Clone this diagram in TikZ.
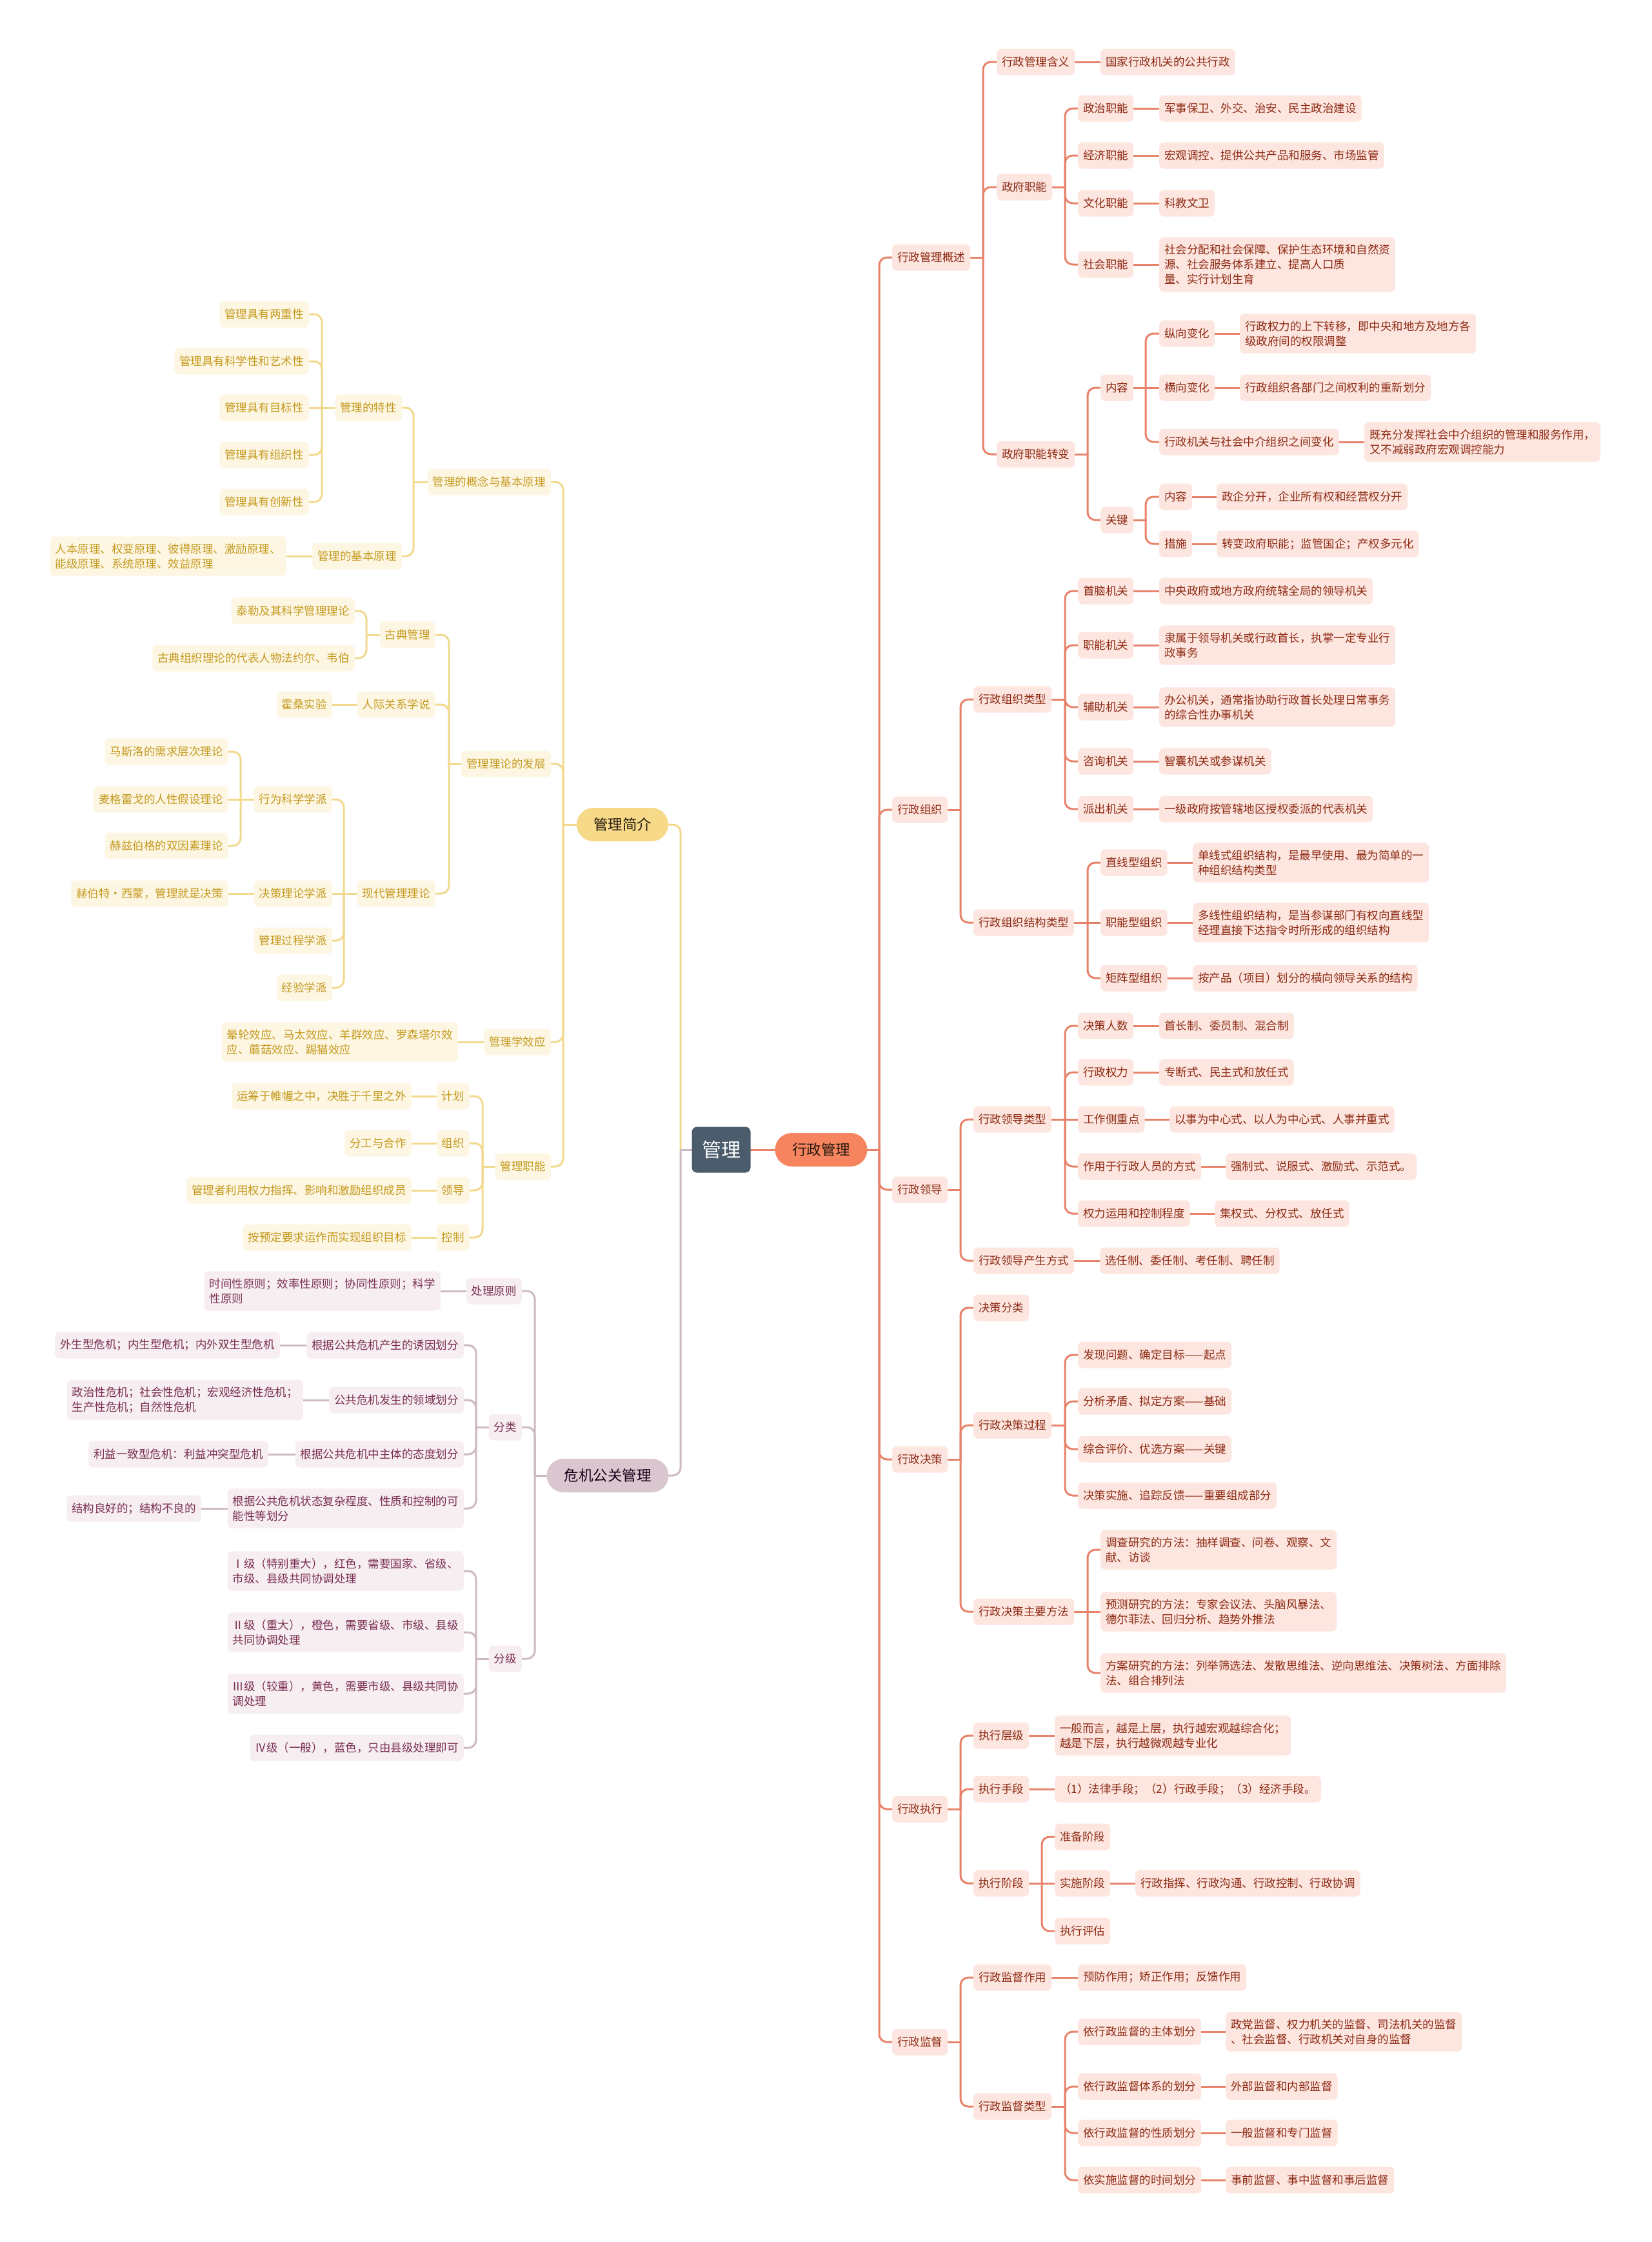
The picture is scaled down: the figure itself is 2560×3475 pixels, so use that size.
\documentclass[tikz,border=0pt]{standalone}
\usepackage{fontspec}
\setmainfont{Noto Sans CJK SC}
\usetikzlibrary{calc}
\pgfdeclarelayer{bg}
\pgfsetlayers{bg,main}
\definecolor{rline}{HTML}{E8826A}
\definecolor{rfill}{HTML}{FCE6DF}
\definecolor{rtext}{HTML}{8E2A14}
\definecolor{yline}{HTML}{F2D98E}
\definecolor{yfill}{HTML}{FDF6E3}
\definecolor{ytext}{HTML}{C49A1E}
\definecolor{mline}{HTML}{CDB9C3}
\definecolor{mfill}{HTML}{F6EEF1}
\definecolor{mtext}{HTML}{7A2E52}
\definecolor{rootfill}{HTML}{4B5C6D}
\definecolor{xzfill}{HTML}{F6845F}
\definecolor{jjfill}{HTML}{F6DA8A}
\definecolor{wjfill}{HTML}{D9C6CE}
\newcommand\fsz{\fontsize{17.5}{23}\selectfont}
\tikzset{
 box/.style={rounded corners=7pt, inner xsep=8pt, inner ysep=11pt, minimum height=41pt, align=left, font=\fsz},
 R/.style={box, fill=rfill, text=rtext, anchor=west},
 Y/.style={box, fill=yfill, text=ytext, anchor=east},
 M/.style={box, fill=mfill, text=mtext, anchor=east},
 rl/.style={draw=rline, line width=3pt, line cap=round},
 yl/.style={draw=yline, line width=3pt, line cap=round},
 ml/.style={draw=mline, line width=3pt, line cap=round},
 rootbox/.style={fill=rootfill, text=white, rounded corners=8pt, minimum width=91pt, minimum height=71pt, inner sep=0pt, font=\fontsize{30}{36}\selectfont},
 pill/.style={rounded corners=26pt, minimum height=52pt, inner xsep=0pt, inner ysep=0pt, font=\fontsize{22.5}{28}\selectfont},
}
\newcommand\rbr[4]{%
 \coordinate (T) at (#4,0);
 \draw[#1] (#2.east) -- (#2.east -| T);
 \draw[#1,rounded corners=12pt] (#2.east -| T) -- (#3.west -| T) -- (#3.west);
}
\newcommand\lbr[4]{%
 \coordinate (T) at (#4,0);
 \draw[#1] (#2.west) -- (#2.west -| T);
 \draw[#1,rounded corners=12pt] (#2.west -| T) -- (#3.east -| T) -- (#3.east);
}
\begin{document}
\begin{tikzpicture}[x=1pt,y=-1pt]
\begin{pgfonlayer}{bg}
\fill[white] (0,0) rectangle (2560,3475);
\end{pgfonlayer}
\useasboundingbox (0,0) rectangle (2560,3475);
% ---------- centre ----------
\node[rootbox] (r) at (1118,1782) {管理};
\node[pill, fill=xzfill, text=black!80!brown, minimum width=143pt] (x) at (1273,1782) {行政管理};
\node[pill, fill=jjfill, text=black!80!brown, minimum width=142pt] (b) at (965,1278) {管理简介};
\node[pill, fill=wjfill, text=black!80!violet, minimum width=189pt] (c) at (942,2287) {危机公关管理};
% ---------- right: 行政管理 ----------
\node[R] (a1) at (1383,399) {行政管理概述};
\node[R] (a2) at (1383,1255) {行政组织};
\node[R] (a3) at (1383,1844) {行政领导};
\node[R] (a4) at (1383,2262) {行政决策};
\node[R] (a5) at (1383,2804) {行政执行};
\node[R] (a6) at (1383,3165) {行政监督};
% a1
\node[R] (a11) at (1545,96) {行政管理含义};
\node[R] (a11a) at (1706,96) {国家行政机关的公共行政};
\node[R] (a12) at (1545,290) {政府职能};
\node[R] (a121) at (1671,168) {政治职能};
\node[R] (a121a) at (1797,168) {军事保卫、外交、治安、民主政治建设};
\node[R] (a122) at (1671,241) {经济职能};
\node[R] (a122a) at (1797,241) {宏观调控、提供公共产品和服务、市场监管};
\node[R] (a123) at (1671,315) {文化职能};
\node[R] (a123a) at (1797,315) {科教文卫};
\node[R] (a124) at (1671,410) {社会职能};
\node[R] (a124a) at (1797,410) {社会分配和社会保障、保护生态环境和自然资\\源、社会服务体系建立、提高人口质\\量、实行计划生育};
\node[R] (a13) at (1545,704) {政府职能转变};
\node[R] (a131) at (1706,601) {内容};
\node[R] (a1311) at (1797,517) {纵向变化};
\node[R] (a1311a) at (1922,517) {行政权力的上下转移，即中央和地方及地方各\\级政府间的权限调整};
\node[R] (a1312) at (1797,601) {横向变化};
\node[R] (a1312a) at (1922,601) {行政组织各部门之间权利的重新划分};
\node[R] (a1313) at (1797,685) {行政机关与社会中介组织之间变化};
\node[R] (a1313a) at (2115,685) {既充分发挥社会中介组织的管理和服务作用，\\又不减弱政府宏观调控能力};
\node[R] (a132) at (1706,806) {关键};
\node[R] (a1321) at (1797,770) {内容};
\node[R] (a1321a) at (1886,770) {政企分开，企业所有权和经营权分开};
\node[R] (a1322) at (1797,843) {措施};
\node[R] (a1322a) at (1886,843) {转变政府职能；监管国企；产权多元化};
% a2
\node[R] (a21) at (1509,1084) {行政组织类型};
\node[R] (a211) at (1671,916) {首脑机关};
\node[R] (a211a) at (1797,916) {中央政府或地方政府统辖全局的领导机关};
\node[R] (a212) at (1671,1000) {职能机关};
\node[R] (a212a) at (1797,1000) {隶属于领导机关或行政首长，执掌一定专业行\\政事务};
\node[R] (a213) at (1671,1096) {辅助机关};
\node[R] (a213a) at (1797,1096) {办公机关，通常指协助行政首长处理日常事务\\的综合性办事机关};
\node[R] (a214) at (1671,1180) {咨询机关};
\node[R] (a214a) at (1797,1180) {智囊机关或参谋机关};
\node[R] (a215) at (1671,1254) {派出机关};
\node[R] (a215a) at (1797,1254) {一级政府按管辖地区授权委派的代表机关};
\node[R] (a22) at (1509,1430) {行政组织结构类型};
\node[R] (a221) at (1706,1337) {直线型组织};
\node[R] (a221a) at (1849,1337) {单线式组织结构，是最早使用、最为简单的一\\种组织结构类型};
\node[R] (a222) at (1706,1430) {职能型组织};
\node[R] (a222a) at (1849,1430) {多线性组织结构，是当参谋部门有权向直线型\\经理直接下达指令时所形成的组织结构};
\node[R] (a223) at (1706,1516) {矩阵型组织};
\node[R] (a223a) at (1849,1516) {按产品（项目）划分的横向领导关系的结构};
% a3
\node[R] (a31) at (1509,1735) {行政领导类型};
\node[R] (a311) at (1671,1590) {决策人数};
\node[R] (a311a) at (1797,1590) {首长制、委员制、混合制};
\node[R] (a312) at (1671,1662) {行政权力};
\node[R] (a312a) at (1797,1662) {专断式、民主式和放任式};
\node[R] (a313) at (1671,1735) {工作侧重点};
\node[R] (a313a) at (1813,1735) {以事为中心式、以人为中心式、人事并重式};
\node[R] (a314) at (1671,1808) {作用于行政人员的方式};
\node[R] (a314a) at (1900,1808) {强制式、说服式、激励式、示范式。};
\node[R] (a315) at (1671,1881) {权力运用和控制程度};
\node[R] (a315a) at (1883,1881) {集权式、分权式、放任式};
\node[R] (a32) at (1509,1954) {行政领导产生方式};
\node[R] (a32a) at (1705,1954) {选任制、委任制、考任制、聘任制};
% a4
\node[R] (a41) at (1509,2027) {决策分类};
\node[R] (a42) at (1509,2209) {行政决策过程};
\node[R] (a421) at (1671,2100) {发现问题、确定目标——起点};
\node[R] (a422) at (1671,2172) {分析矛盾、拟定方案——基础};
\node[R] (a423) at (1671,2246) {综合评价、优选方案——关键};
\node[R] (a424) at (1671,2318) {决策实施、追踪反馈——重要组成部分};
\node[R] (a43) at (1509,2498) {行政决策主要方法};
\node[R] (a431) at (1706,2402) {调查研究的方法：抽样调查、问卷、观察、文\\献、访谈};
\node[R] (a432) at (1706,2498) {预测研究的方法：专家会议法、头脑风暴法、\\德尔菲法、回归分析、趋势外推法};
\node[R] (a433) at (1706,2593) {方案研究的方法：列举筛选法、发散思维法、逆向思维法、决策树法、方面排除\\法、组合排列法};
% a5
\node[R] (a51) at (1509,2690) {执行层级};
\node[R] (a51a) at (1635,2690) {一般而言，越是上层，执行越宏观越综合化；\\越是下层，执行越微观越专业化};
\node[R] (a52) at (1509,2773) {执行手段};
\node[R] (a52a) at (1635,2773) {（1）法律手段；（2）行政手段；（3）经济手段。};
\node[R] (a53) at (1509,2919) {执行阶段};
\node[R] (a531) at (1635,2847) {准备阶段};
\node[R] (a532) at (1635,2919) {实施阶段};
\node[R] (a532a) at (1760,2919) {行政指挥、行政沟通、行政控制、行政协调};
\node[R] (a533) at (1635,2993) {执行评估};
% a6
\node[R] (a61) at (1509,3065) {行政监督作用};
\node[R] (a61a) at (1671,3065) {预防作用；矫正作用；反馈作用};
\node[R] (a62) at (1509,3265) {行政监督类型};
\node[R] (a621) at (1671,3149) {依行政监督的主体划分};
\node[R] (a621a) at (1900,3149) {政党监督、权力机关的监督、司法机关的监督\\、社会监督、行政机关对自身的监督};
\node[R] (a622) at (1671,3234) {依行政监督体系的划分};
\node[R] (a622a) at (1900,3234) {外部监督和内部监督};
\node[R] (a623) at (1671,3306) {依行政监督的性质划分};
\node[R] (a623a) at (1900,3306) {一般监督和专门监督};
\node[R] (a624) at (1671,3379) {依实施监督的时间划分};
\node[R] (a624a) at (1900,3379) {事前监督、事中监督和事后监督};
% ---------- left: 管理简介 ----------
\node[Y] (b1) at (854,747) {管理的概念与基本原理};
\node[Y] (b11) at (623,632) {管理的特性};
\node[Y] (b111) at (479,487) {管理具有两重性};
\node[Y] (b112) at (479,560) {管理具有科学性和艺术性};
\node[Y] (b113) at (479,632) {管理具有目标性};
\node[Y] (b114) at (479,705) {管理具有组织性};
\node[Y] (b115) at (479,778) {管理具有创新性};
\node[Y] (b12) at (623,862) {管理的基本原理};
\node[Y] (b12a) at (444,862) {人本原理、权变原理、彼得原理、激励原理、\\能级原理、系统原理、效益原理};
\node[Y] (b2) at (854,1184) {管理理论的发展};
\node[Y] (b21) at (675,984) {古典管理};
\node[Y] (b211) at (550,947) {泰勒及其科学管理理论};
\node[Y] (b212) at (550,1020) {古典组织理论的代表人物法约尔、韦伯};
\node[Y] (b22) at (675,1092) {人际关系学说};
\node[Y] (b22a) at (515,1092) {霍桑实验};
\node[Y] (b23) at (675,1385) {现代管理理论};
\node[Y] (b231) at (515,1239) {行为科学学派};
\node[Y] (b2311) at (354,1165) {马斯洛的需求层次理论};
\node[Y] (b2312) at (354,1239) {麦格雷戈的人性假设理论};
\node[Y] (b2313) at (354,1311) {赫兹伯格的双因素理论};
\node[Y] (b232) at (515,1385) {决策理论学派};
\node[Y] (b232a) at (354,1385) {赫伯特·西蒙，管理就是决策};
\node[Y] (b233) at (515,1458) {管理过程学派};
\node[Y] (b234) at (515,1531) {经验学派};
\node[Y] (b3) at (854,1615) {管理学效应};
\node[Y] (b3a) at (710,1615) {晕轮效应、马太效应、羊群效应、罗森塔尔效\\应、蘑菇效应、踢猫效应};
\node[Y] (b4) at (854,1808) {管理职能};
\node[Y] (b41) at (728,1699) {计划};
\node[Y] (b41a) at (638,1699) {运筹于帷幄之中，决胜于千里之外};
\node[Y] (b42) at (728,1772) {组织};
\node[Y] (b42a) at (638,1772) {分工与合作};
\node[Y] (b43) at (728,1845) {领导};
\node[Y] (b43a) at (638,1845) {管理者利用权力指挥、影响和激励组织成员};
\node[Y] (b44) at (728,1918) {控制};
\node[Y] (b44a) at (638,1918) {按预定要求运作而实现组织目标};
% ---------- left: 危机公关管理 ----------
\node[M] (c1) at (809,2001) {处理原则};
\node[M] (c1a) at (683,2001) {时间性原则；效率性原则；协同性原则；科学\\性原则};
\node[M] (c2) at (809,2212) {分类};
\node[M] (c21) at (719,2085) {根据公共危机产生的诱因划分};
\node[M] (c21a) at (434,2085) {外生型危机；内生型危机；内外双生型危机};
\node[M] (c22) at (719,2170) {公共危机发生的领域划分};
\node[M] (c22a) at (470,2170) {政治性危机；社会性危机；宏观经济性危机；\\生产性危机；自然性危机};
\node[M] (c23) at (719,2254) {根据公共危机中主体的态度划分};
\node[M] (c23a) at (416,2254) {利益一致型危机：利益冲突型危机};
\node[M] (c24) at (719,2338) {根据公共危机状态复杂程度、性质和控制的可\\能性等划分};
\node[M] (c24a) at (312,2338) {结构良好的；结构不良的};
\node[M] (c3) at (809,2571) {分级};
\node[M] (c31) at (719,2435) {Ⅰ级（特别重大），红色，需要国家、省级、\\市级、县级共同协调处理};
\node[M] (c32) at (719,2530) {Ⅱ级（重大），橙色，需要省级、市级、县级\\共同协调处理};
\node[M] (c33) at (719,2625) {Ⅲ级（较重），黄色，需要市级、县级共同协\\调处理};
\node[M] (c34) at (719,2709) {Ⅳ级（一般），蓝色，只由县级处理即可};
% ---------- connectors ----------
\begin{pgfonlayer}{bg}
\draw[rl] (r.east) -- (x.west);
\lbr{yl}{r}{b}{1055}
\lbr{ml}{r}{c}{1055}
\foreach \n in {a1,a2,a3,a4,a5,a6} {\rbr{rl}{x}{\n}{1363}}
% a1
\foreach \n in {a11,a12,a13} {\rbr{rl}{a1}{\n}{1524}}
\draw[rl] (a11.east) -- (a11a.west);
\foreach \n in {a121,a122,a123,a124} {\rbr{rl}{a12}{\n}{1651}}
\foreach \n in {a121,a122,a123,a124} {\draw[rl] (\n.east) -- (\n a.west);}
\foreach \n in {a131,a132} {\rbr{rl}{a13}{\n}{1686}}
\rbr{rl}{a131}{a1311}{1776}
\draw[rl] (a131.east) -- (a1312.west);
\rbr{rl}{a131}{a1313}{1776}
\foreach \n in {a1311,a1312,a1313,a1321,a1322} {\draw[rl] (\n.east) -- (\n a.west);}
\foreach \n in {a1321,a1322} {\rbr{rl}{a132}{\n}{1776}}
% a2
\foreach \n in {a21,a22} {\rbr{rl}{a2}{\n}{1489}}
\foreach \n in {a211,a212,a213,a214,a215} {\rbr{rl}{a21}{\n}{1651}\draw[rl] (\n.east) -- (\n a.west);}
\rbr{rl}{a22}{a221}{1686}
\draw[rl] (a22.east) -- (a222.west);
\rbr{rl}{a22}{a223}{1686}
\foreach \n in {a221,a222,a223} {\draw[rl] (\n.east) -- (\n a.west);}
% a3
\foreach \n in {a31,a32} {\rbr{rl}{a3}{\n}{1489}}
\foreach \n in {a311,a312,a314,a315} {\rbr{rl}{a31}{\n}{1651}}
\draw[rl] (a31.east) -- (a313.west);
\foreach \n in {a311,a312,a313,a314,a315,a32} {\draw[rl] (\n.east) -- (\n a.west);}
% a4
\foreach \n in {a41,a42,a43} {\rbr{rl}{a4}{\n}{1489}}
\foreach \n in {a421,a422,a423,a424} {\rbr{rl}{a42}{\n}{1651}}
\rbr{rl}{a43}{a431}{1686}
\draw[rl] (a43.east) -- (a432.west);
\rbr{rl}{a43}{a433}{1686}
% a5
\foreach \n in {a51,a52,a53} {\rbr{rl}{a5}{\n}{1489}}
\draw[rl] (a51.east) -- (a51a.west);
\draw[rl] (a52.east) -- (a52a.west);
\rbr{rl}{a53}{a531}{1615}
\draw[rl] (a53.east) -- (a532.west);
\rbr{rl}{a53}{a533}{1615}
\draw[rl] (a532.east) -- (a532a.west);
% a6
\foreach \n in {a61,a62} {\rbr{rl}{a6}{\n}{1489}}
\draw[rl] (a61.east) -- (a61a.west);
\foreach \n in {a621,a622,a623,a624} {\rbr{rl}{a62}{\n}{1651}\draw[rl] (\n.east) -- (\n a.west);}
% b
\foreach \n in {b1,b2,b3,b4} {\lbr{yl}{b}{\n}{873}}
\foreach \n in {b11,b12} {\lbr{yl}{b1}{\n}{641}}
\foreach \n in {b111,b112,b114,b115} {\lbr{yl}{b11}{\n}{499}}
\draw[yl] (b11.west) -- (b113.east);
\draw[yl] (b12.west) -- (b12a.east);
\foreach \n in {b21,b22,b23} {\lbr{yl}{b2}{\n}{696}}
\foreach \n in {b211,b212} {\lbr{yl}{b21}{\n}{568}}
\draw[yl] (b22.west) -- (b22a.east);
\foreach \n in {b231,b233,b234} {\lbr{yl}{b23}{\n}{533}}
\draw[yl] (b23.west) -- (b232.east);
\draw[yl] (b232.west) -- (b232a.east);
\foreach \n in {b2311,b2313} {\lbr{yl}{b231}{\n}{373}}
\draw[yl] (b231.west) -- (b2312.east);
\draw[yl] (b3.west) -- (b3a.east);
\foreach \n in {b41,b42,b43,b44} {\lbr{yl}{b4}{\n}{748}\draw[yl] (\n.west) -- (\n a.east);}
% c
\foreach \n in {c1,c2,c3} {\lbr{ml}{c}{\n}{829}}
\draw[ml] (c1.west) -- (c1a.east);
\foreach \n in {c21,c22,c23,c24} {\lbr{ml}{c2}{\n}{738}\draw[ml] (\n.west) -- (\n a.east);}
\foreach \n in {c31,c32,c33,c34} {\lbr{ml}{c3}{\n}{738}}
\end{pgfonlayer}
\end{tikzpicture}
\end{document}
